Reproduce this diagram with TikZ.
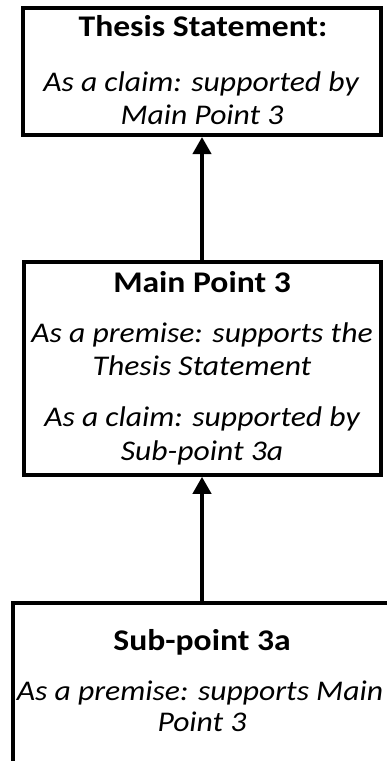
\documentclass[tikz,border=0pt]{standalone}
\usepackage{fontspec}
\setmainfont{Carlito}[FakeStretch=1.11]
\newfontfamily\hdfont{Carlito}[FakeStretch=1.12]
\usetikzlibrary{arrows.meta}
\tikzset{
  box/.style={draw=black, line width=4pt, fill=white, inner sep=0pt},
  head/.style={anchor=base, inner sep=0pt, font=\hdfont\bfseries\fontsize{30}{33}\selectfont},
  body/.style={anchor=base, inner sep=0pt, font=\itshape\fontsize{28.5}{33}\selectfont},
  conn/.style={line width=4pt, -{Triangle[length=17pt,width=18pt]}}
}
\begin{document}
\begin{tikzpicture}[x=1pt,y=-1pt]
\useasboundingbox (0,0) rectangle (386,761);
% boxes
\node[box, minimum width=358pt, minimum height=127pt] (thesis) at (202,71.5) {};
\node[box, minimum width=357pt, minimum height=213pt] (main) at (202,368.3) {};
\node[box, minimum width=379pt, minimum height=190pt] (sub) at (202,698) {};
% thesis text
\node[head] (t1) at (203,36.7) {Thesis Statement:};
\node[body] (t2) at (201,91.2) {As a claim: supported by};
\node[body] (t3) at (202,124.5) {Main Point 3};
% main point text
\node[head] (m1) at (202,292.3) {Main Point 3};
\node[body] (m2) at (202,342.3) {As a premise: supports the};
\node[body] (m3) at (202,375.7) {Thesis Statement};
\node[body] (m4) at (202,426.7) {As a claim: supported by};
\node[body] (m5) at (202,460) {Sub-point 3a};
% sub-point text
\node[head] (s1) at (202,650) {Sub-point 3a};
\node[body] (s2) at (200,700) {As a premise: supports Main};
\node[body] (s3) at (202,731.7) {Point 3};
% connectors
\draw[conn] (main.north) -- (thesis.south);
\draw[conn] (sub.north) -- (main.south);
\end{tikzpicture}
\end{document}
